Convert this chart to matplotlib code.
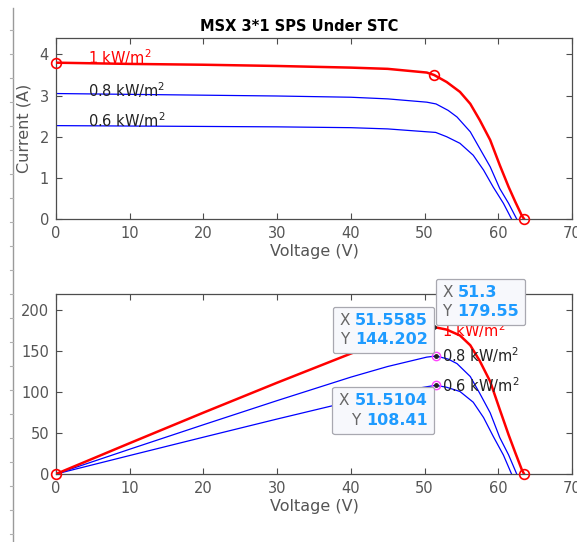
import matplotlib
matplotlib.use('Agg')
from matplotlib import pyplot as plt
from matplotlib.offsetbox import TextArea, HPacker, VPacker, AnnotationBbox
import numpy as np

# I-V samples of the 3x1 MSX array at three irradiance levels
v_1000 = [0, 10, 20, 30, 40, 45, 50.3, 51.3, 53.0, 54.8, 56.2, 57.5, 58.9, 60.2, 61.4, 62.3, 63.2, 63.5]
i_1000 = [3.80, 3.77, 3.75, 3.72, 3.68, 3.65, 3.56, 3.50, 3.33, 3.09, 2.80, 2.40, 1.92, 1.31, 0.78, 0.42, 0.08, 0.0]

v_800 = [0, 10, 20, 30, 40, 45, 50.3, 51.5585, 53.2, 54.4, 56.2, 57.5, 58.9, 60.2, 61.4, 62.5]
i_800 = [3.05, 3.03, 3.01, 2.99, 2.96, 2.92, 2.84, 2.7968, 2.64, 2.48, 2.12, 1.71, 1.27, 0.74, 0.38, 0.0]

v_600 = [0, 10, 20, 30, 40, 45, 50.3, 51.5104, 53.0, 54.8, 56.6, 58.0, 59.3, 60.7, 61.8]
i_600 = [2.27, 2.26, 2.25, 2.24, 2.22, 2.19, 2.12, 2.1046, 2.00, 1.84, 1.55, 1.19, 0.78, 0.38, 0.0]

labels = ['1 kW/m$^2$', '0.8 kW/m$^2$', '0.6 kW/m$^2$']

# maximum power points (datatips)
mpp_v = [51.3, 51.5585, 51.5104]
mpp_p = [179.55, 144.202, 108.41]

# key points marked on the 1 kW/m2 curve: Isc, MPP, Voc
key_v = [0, 51.3, 63.5]
key_i = [3.80, 3.50, 0.0]

W, H = 577, 542
fig = plt.figure(figsize=(W / 100, H / 100), dpi=100)
plt.rcParams['font.family'] = 'DejaVu Sans'

gray = '#555555'
tipblue = '#1e9bff'


def style_axes(ax):
    ax.set_xlim(0, 70)
    ax.set_xticks(range(0, 71, 10))
    ax.tick_params(direction='in', top=True, right=True, length=4,
                   labelsize=10.5, colors='#4d4d4d', labelcolor=gray, pad=5)
    for s in ax.spines.values():
        s.set_color('#4d4d4d')
        s.set_linewidth(0.9)
    ax.set_xlabel('Voltage (V)', fontsize=11.5, color=gray, labelpad=2)


# ---- I-V plot ----
ax1 = fig.add_axes([56 / W, 1 - 219 / H, 516 / W, 181 / H])
ax1.plot(v_1000, i_1000, color='red', lw=1.8, zorder=3)
ax1.plot(v_800, i_800, color='blue', lw=0.9, zorder=2)
ax1.plot(v_600, i_600, color='blue', lw=0.9, zorder=2)
ax1.plot(key_v, key_i, 'o', mfc='none', mec='red', ms=7, mew=1.2, zorder=4, clip_on=False)
style_axes(ax1)
ax1.set_ylim(0, 4.4)
ax1.set_yticks(range(0, 5))
ax1.set_ylabel('Current (A)', fontsize=11.5, color=gray, labelpad=6)
ax1.set_title('MSX 3*1 SPS Under STC', fontsize=10.5, fontweight='bold', pad=5,
              x=(299 - 56) / 516)

ax1.text(4.4, 3.93, labels[0], color='red', fontsize=10.5, va='center')
ax1.text(4.4, 3.13, labels[1], color='#222222', fontsize=10.5, va='center')
ax1.text(4.4, 2.40, labels[2], color='#222222', fontsize=10.5, va='center')

# ---- P-V plot ----
ax2 = fig.add_axes([56 / W, 1 - 474 / H, 516 / W, 180 / H])
p_1000 = np.array(v_1000) * np.array(i_1000)
p_800 = np.array(v_800) * np.array(i_800)
p_600 = np.array(v_600) * np.array(i_600)
ax2.plot(v_1000, p_1000, color='red', lw=1.8, zorder=3)
ax2.plot(v_800, p_800, color='blue', lw=0.9, zorder=2)
ax2.plot(v_600, p_600, color='blue', lw=0.9, zorder=2)
ax2.plot([v_1000[0], v_1000[-1]], [p_1000[0], p_1000[-1]], 'o', mfc='none', mec='red',
         ms=7, mew=1.2, zorder=4, clip_on=False)
ax2.plot(mpp_v[1:], mpp_p[1:], 'o', mfc='none', mec='#ff44ff', ms=6, mew=1.0, zorder=4)
ax2.plot(mpp_v, mpp_p, 'o', color='#222222', ms=2.5, zorder=5)
style_axes(ax2)
ax2.set_ylim(0, 220)
ax2.set_yticks(range(0, 201, 50))

ax2.text(52.4, 176, labels[0], color='red', fontsize=10.5, va='center', zorder=3)
ax2.text(52.4, 145, labels[1], color='#222222', fontsize=10.5, va='center')
ax2.text(52.4, 108.5, labels[2], color='#222222', fontsize=10.5, va='center')


def datatip(ax, x, y, xs, ys, align, offset):
    rows = []
    for key, val in (('X', xs), ('Y', ys)):
        rows.append(HPacker(children=[
            TextArea(key, textprops=dict(color='#666666', fontsize=11)),
            TextArea(val, textprops=dict(color=tipblue, fontsize=11.5, fontweight='bold'))],
            pad=0, sep=4, align='baseline'))
    box = VPacker(children=rows, pad=0, sep=3, align='right' if align[0] == 1 else 'left')
    ab = AnnotationBbox(box, (x, y), xybox=offset, boxcoords='offset points',
                        box_alignment=align, frameon=True, pad=0.45,
                        bboxprops=dict(boxstyle='round,pad=0.45,rounding_size=0.15',
                                       fc='#f7f8fc', ec='#a8a8b0', lw=0.9),
                        zorder=6, annotation_clip=False)
    ax.add_artist(ab)


datatip(ax2, mpp_v[0], mpp_p[0], '51.3', '179.55', (0.0, 0.0), (5.8, 5.8))
datatip(ax2, mpp_v[1], mpp_p[1], '51.5585', '144.202', (1.0, 0.0), (-5.8, 6.5))
datatip(ax2, mpp_v[2], mpp_p[2], '51.5104', '108.41', (1.0, 1.0), (-5.8, -5.8))

# window ruler along the left edge
fig.add_artist(plt.Line2D([13 / W, 13 / W], [0, 1 - 8 / H], color='#9a9a9a', lw=1.0))
for yy in range(30, H, 24):
    fig.add_artist(plt.Line2D([10 / W, 13 / W], [1 - yy / H, 1 - yy / H], color='#b0b0b0', lw=0.8))

fig.savefig('out.png', dpi=100)
